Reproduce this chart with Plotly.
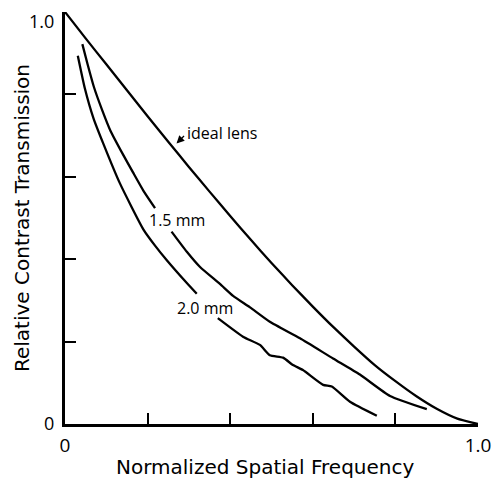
import plotly.graph_objects as go

# Normalized spatial frequency vs relative contrast transmission
ideal_x = [0.0, 0.05, 0.10, 0.15, 0.20, 0.25, 0.30, 0.35, 0.40, 0.45, 0.50,
           0.55, 0.60, 0.65, 0.70, 0.75, 0.80, 0.85, 0.90, 0.95, 1.0]
ideal_y = [1.0, 0.936, 0.873, 0.810, 0.747, 0.685, 0.624, 0.564, 0.505, 0.447, 0.391,
           0.337, 0.285, 0.235, 0.188, 0.143, 0.104, 0.068, 0.037, 0.013, 0.0]

mm15_x = [0.042, 0.055, 0.070, 0.090, 0.110, 0.140, 0.165, 0.190, 0.218, None,
          0.258, 0.295, 0.327, 0.375, 0.407, 0.448, 0.496, 0.569, 0.649, 0.714, 0.787, 0.876]
mm15_y = [0.922, 0.872, 0.818, 0.762, 0.712, 0.655, 0.610, 0.566, 0.524, None,
          0.467, 0.418, 0.381, 0.340, 0.311, 0.283, 0.248, 0.208, 0.159, 0.120, 0.068, 0.036]

mm20_x = [0.031, 0.048, 0.069, 0.093, 0.133, 0.190, 0.218, 0.246, 0.295, 0.319, None,
          0.370, 0.431, 0.472, 0.496, 0.528, 0.552, 0.576, 0.625, 0.646, 0.690, 0.755]
mm20_y = [0.894, 0.815, 0.742, 0.680, 0.584, 0.472, 0.433, 0.398, 0.342, 0.316, None,
          0.257, 0.212, 0.192, 0.167, 0.161, 0.143, 0.131, 0.095, 0.091, 0.054, 0.020]

tick_vals = [0, 0.2, 0.4, 0.6, 0.8, 1.0]
x_tick_text = ["0", "", "", "", "", "1.0"]
y_tick_labels = [("0", 0.0, 1), ("1.0", 1.0, -9)]

labels = [("ideal lens", 0.379, 0.706), ("1.5 mm", 0.271, 0.495), ("2.0 mm", 0.339, 0.282)]

x_title = "Normalized Spatial Frequency"
y_title = "Relative Contrast Transmission"

FONT = "Open Sans"
TITLE_FONT = "DejaVu Sans"
fig = go.Figure()
for xs, ys, name in [(ideal_x, ideal_y, "ideal lens"), (mm15_x, mm15_y, "1.5 mm"),
                     (mm20_x, mm20_y, "2.0 mm")]:
    fig.add_trace(go.Scatter(x=xs, y=ys, mode="lines", name=name,
                             line=dict(color="black", width=2.3, shape="spline", smoothing=0.5),
                             connectgaps=False, showlegend=False))

for text, x, y in labels:
    fig.add_annotation(x=x, y=y, text=text, showarrow=False,
                       font=dict(family=FONT, size=16, color="black"))

# small arrow from "ideal lens" label to the curve
fig.add_annotation(x=0.270, y=0.681, ax=9, ay=-9, text="", showarrow=True,
                   arrowhead=2, arrowsize=1.2, arrowwidth=1.3, arrowcolor="black")

# y tick labels (slightly offset like the original)
for text, yv, shift in y_tick_labels:
    fig.add_annotation(xref="paper", x=0, y=yv, xanchor="right", yanchor="middle",
                       xshift=-9, yshift=shift, text=text, showarrow=False,
                       font=dict(family=FONT, size=18, color="black"))

# axis titles placed as annotations for precise positioning
fig.add_annotation(xref="paper", yref="paper", x=0.5, y=0, xshift=-7, yshift=-43,
                   text=x_title, showarrow=False, xanchor="center", yanchor="middle",
                   font=dict(family=TITLE_FONT, size=20, color="black"))
fig.add_annotation(xref="paper", yref="paper", x=0, y=0.5, xshift=-43,
                   text=y_title, showarrow=False, textangle=-90,
                   xanchor="center", yanchor="middle",
                   font=dict(family=TITLE_FONT, size=20, color="black"))

axis_common = dict(range=[0, 1.0], tickvals=tick_vals, ticks="inside", ticklen=11,
                   tickwidth=2.3, tickcolor="black", showline=True, linecolor="black",
                   linewidth=2.5, showgrid=False, zeroline=False, automargin=False,
                   ticklabeloverflow="allow",
                   tickfont=dict(family=FONT, size=19, color="black"))

fig.update_xaxes(**axis_common, ticktext=x_tick_text, ticklabelstandoff=2)
fig.update_yaxes(**axis_common, showticklabels=False)

# the page body adds an 8px offset, so the figure is 8px smaller and margins shifted
fig.update_layout(width=495, height=474, margin=dict(l=57, r=25, t=4, b=58),
                  plot_bgcolor="white", paper_bgcolor="white")

fig.write_html("out.html")
